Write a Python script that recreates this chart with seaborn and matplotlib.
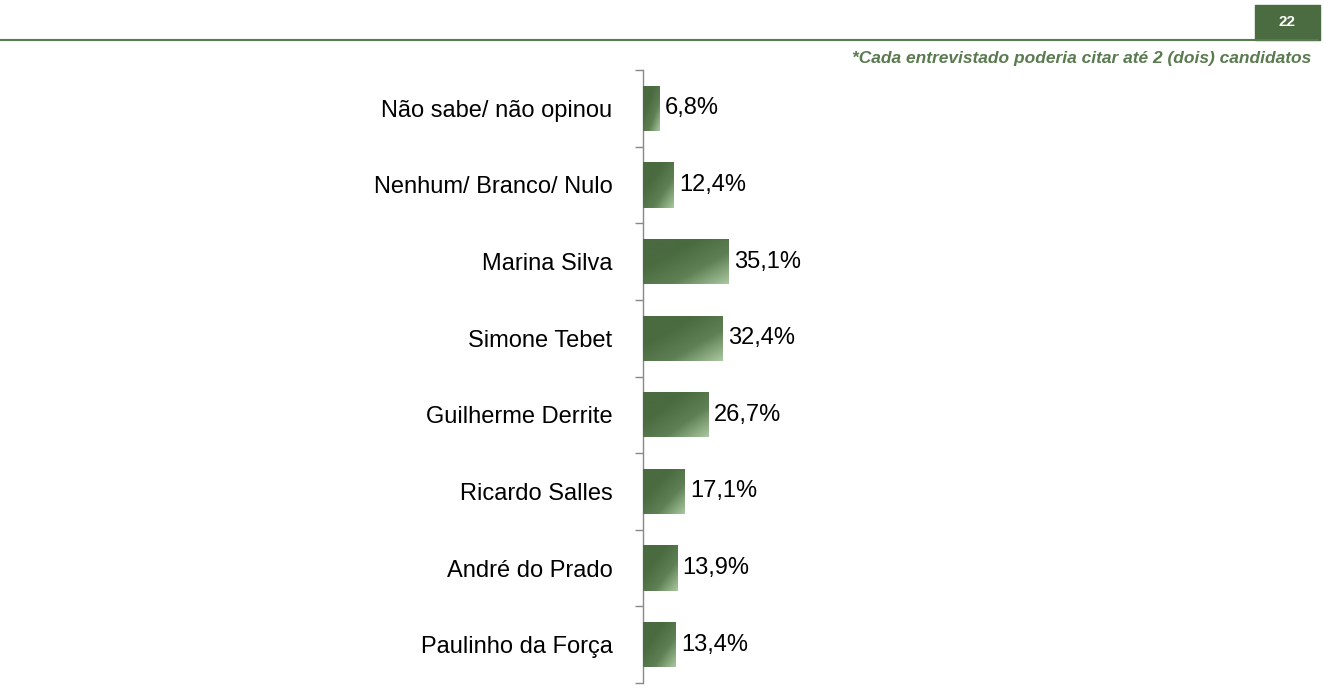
import matplotlib
matplotlib.use("Agg")
import matplotlib.pyplot as plt
import seaborn as sns
import numpy as np
import pandas as pd
from matplotlib.colors import LinearSegmentedColormap

categories = ["Não sabe/ não opinou", "Nenhum/ Branco/ Nulo", "Marina Silva", "Simone Tebet",
              "Guilherme Derrite", "Ricardo Salles", "André do Prado", "Paulinho da Força"]
values = [6.8, 12.4, 35.1, 32.4, 26.7, 17.1, 13.9, 13.4]
labels = ["6,8%", "12,4%", "35,1%", "32,4%", "26,7%", "17,1%", "13,9%", "13,4%"]

sns.set_theme(style="white")
plt.rcParams['font.family'] = ['Liberation Sans', 'DejaVu Sans']
GREEN = "#4b6b41"

fig = plt.figure(figsize=(13.24, 6.9), dpi=100)
ax = fig.add_axes([643/1324, 1-683/690, 0.185, (683-70)/690])
df = pd.DataFrame({"cat": categories, "val": values})
sns.barplot(data=df, x="val", y="cat", color=GREEN, width=0.59, saturation=1, ax=ax)
ax.set_xlim(0, 100)
ax.set_ylim(len(categories)-0.5, -0.5)

cmap = LinearSegmentedColormap.from_list("g", ["#4a6a40", "#4a6a40", "#5f8054", "#a9c7a0"])
grad = np.add.outer(np.linspace(0, 1, 50), np.linspace(0, 1, 50)) / 2
for p, v, lab in zip(ax.patches, values, labels):
    x0, y0, w, h = p.get_x(), p.get_y(), p.get_width(), p.get_height()
    im = ax.imshow(grad, cmap=cmap, extent=[x0, x0+w, y0+h, y0], aspect="auto", zorder=3)
    im.set_clip_path(p)
    ax.text(v + 2.2, y0 + h/2, lab, va="center", ha="left", fontsize=17, color="black")
ax.set_xlim(0, 100)
ax.set_ylim(len(categories)-0.5, -0.5)

ax.set_xlabel(""); ax.set_ylabel("")
ax.set_xticks([])
for s in ["top", "right", "bottom"]:
    ax.spines[s].set_visible(False)
ax.spines["left"].set_color("#888888")
ax.spines["left"].set_linewidth(1)
ax.tick_params(axis="y", which="major", length=0, labelsize=17, pad=22, labelcolor="black")
ax.set_yticks(np.arange(-0.5, len(categories)), minor=True)
ax.tick_params(axis="y", which="minor", length=6, color="#888888", width=1, left=True)

fig.add_artist(plt.Line2D([0, 1318/1324], [1-40/690]*2, color="#5a7a50", lw=1.5))
fig.patches.append(plt.Rectangle((1255/1324, 1-40/690), 65/1324, 35/690, transform=fig.transFigure,
                                 color=GREEN))
fig.text(1287/1324, 1-22/690, "22", color="white", fontsize=11, fontweight="bold", ha="center", va="center")
fig.text(1311/1324, 1-59/690, "*Cada entrevistado poderia citar até 2 (dois) candidatos",
         color="#5a7a50", fontsize=12.5, fontweight="bold", style="italic", ha="right", va="center")
fig.savefig("out.png", dpi=100)
